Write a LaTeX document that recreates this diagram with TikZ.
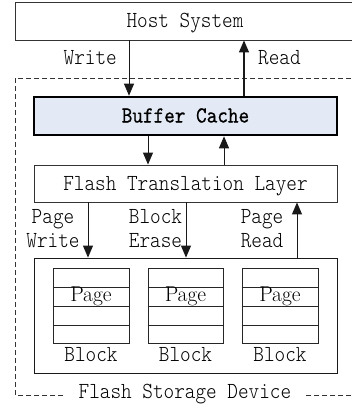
\documentclass[tikz,border=0pt]{standalone}
\usepackage{fontspec}
\usetikzlibrary{arrows.meta}
% narrow, light serif mono face for the diagram labels
\newfontfamily\diagmono{lmmonolt10-regular.otf}[FakeStretch=0.88]
\newfontfamily\diagmonobf{lmmono10-regular.otf}[FakeStretch=0.88,FakeBold=0.6]
\begin{document}
\begin{tikzpicture}[x=1pt,y=-1pt,
  box/.style={draw=black!80,line width=0.9pt,inner sep=0pt,
    font=\fontsize{23}{26}\selectfont\diagmono,text height=13pt,text depth=0pt},
  lbl/.style={font=\fontsize{23}{26}\selectfont\diagmono,inner sep=0pt},
  pg/.style={font=\fontsize{21.5}{24}\selectfont\rmfamily,inner sep=0pt},
  arr/.style={-{Triangle[length=12pt,width=10pt]},line width=1pt,black!90},
  blk/.style={draw=black!85,line width=0.9pt,minimum width=76pt,minimum height=75pt,inner sep=0pt},
]
\useasboundingbox (0,0) rectangle (352,404);
\begin{scope}
\clip (0,0) rectangle (352,404);

% device frame
\draw[dash pattern=on 5pt off 3pt,black!80,line width=0.9pt] (15,78) rectangle (362,395);
\node[lbl,fill=white,inner xsep=15pt,anchor=base] (dev) at (185,398) {Flash Storage Device};

% host and layers
\node[box,minimum width=340pt,minimum height=38pt] (host) at (185,21) {Host System};
\node[box,draw=black,line width=2.6pt,fill={rgb,255:red,228;green,234;blue,245},
      font=\fontsize{23}{26}\selectfont\diagmonobf,
      minimum width=303pt,minimum height=38pt] (buf) at (185.5,116) {Buffer Cache};
\node[box,minimum width=303pt,minimum height=37pt] (ftl) at (185.5,183.5) {Flash Translation Layer};
\node[box,draw=black!90,minimum width=303pt,minimum height=115pt] (flash) at (185.5,315.5) {};

% blocks with page rows
\node[blk] (b1) at (91,305.5) {};
\node[blk,minimum width=75pt] (b2) at (185.5,305.5) {};
\node[blk] (b3) at (280,305.5) {};
\foreach \b in {b1,b2,b3}{
  \foreach \yy in {287,306,325}{
    \draw[black!85,line width=0.9pt] (\b.west |- 0,\yy) -- (\b.east |- 0,\yy);
  }
  \node[pg,anchor=base] at (\b.center |- 0,301) {Page};
  \node[lbl,anchor=base] at (\b.center |- 0,361) {Block};
}

% connector columns
\coordinate (cw) at (129,0);
\coordinate (cr) at (244,0);
\coordinate (cd) at (148,0);
\coordinate (cu) at (224,0);
\coordinate (pw) at (88,0);
\coordinate (be) at (186,0);
\coordinate (pr) at (297,0);

\draw[arr,line width=0.8pt] (host.south -| cw) -- (buf.north -| cw);
\draw[arr,line width=1.4pt] (buf.north -| cr) -- (host.south -| cr);
\draw[arr] (buf.south -| cd) -- (ftl.north -| cd);
\draw[arr] (ftl.north -| cu) -- (buf.south -| cu);
\draw[arr] (ftl.south -| pw) -- (flash.north -| pw);
\draw[arr] (ftl.south -| be) -- (flash.north -| be);
\draw[arr] (flash.north -| pr) -- (ftl.south -| pr);

% labels
\node[lbl,anchor=base east] (lw) at (117,65) {Write};
\node[lbl,anchor=base west] (lr) at (258,65) {Read};
\node[lbl,anchor=base] (l1a) at (53,223) {Page};
\node[lbl,anchor=base] (l1b) at (53,247) {Write};
\node[lbl,anchor=base] (l2a) at (155.5,223) {Block};
\node[lbl,anchor=base] (l2b) at (155.5,247) {Erase};
\node[lbl,anchor=base] (l3a) at (262,223) {Page};
\node[lbl,anchor=base] (l3b) at (262,247) {Read};
\end{scope}
\end{tikzpicture}
\end{document}
